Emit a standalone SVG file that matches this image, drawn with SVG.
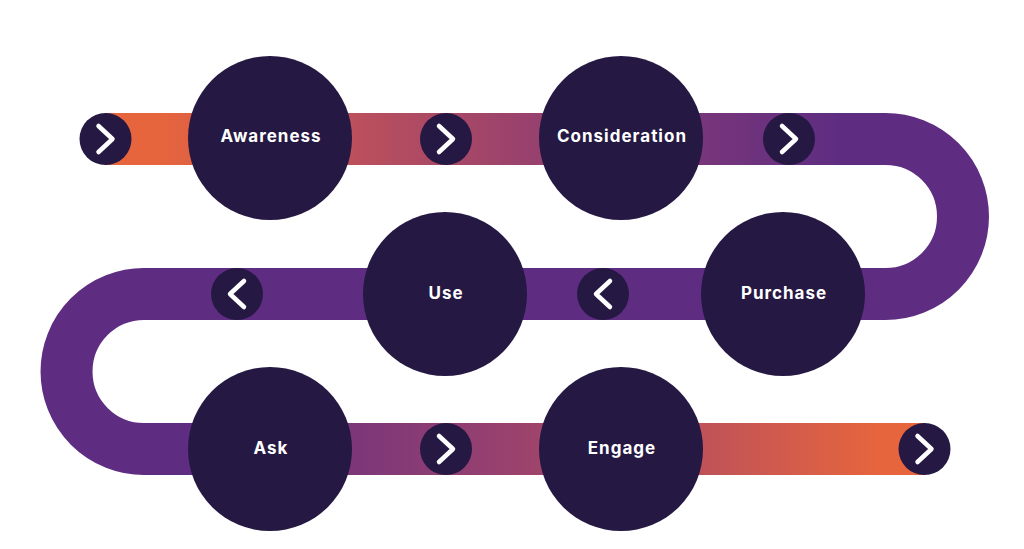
<svg xmlns="http://www.w3.org/2000/svg" width="1024" height="549" viewBox="0 0 1024 549">
<defs>
<linearGradient id="gTop" gradientUnits="userSpaceOnUse" x1="160" y1="0" x2="840" y2="0">
<stop offset="0" stop-color="#E6653D"/>
<stop offset="0.3" stop-color="#B94F5D"/>
<stop offset="0.62" stop-color="#8E3D73"/>
<stop offset="1" stop-color="#5E2D82"/>
</linearGradient>
<linearGradient id="gBot" gradientUnits="userSpaceOnUse" x1="190" y1="0" x2="880" y2="0">
<stop offset="0" stop-color="#5E2D82"/>
<stop offset="0.38" stop-color="#8E3D73"/>
<stop offset="0.7" stop-color="#B94F5D"/>
<stop offset="1" stop-color="#E6653D"/>
</linearGradient>
<g id="chevR"><circle r="26" fill="#251843"/><polyline points="-7,-13 7,0 -7,13" fill="none" stroke="#fff" stroke-width="4.5" stroke-linecap="round" stroke-linejoin="round"/></g>
<g id="chevL"><circle r="26" fill="#251843"/><polyline points="7,-13 -7,0 7,13" fill="none" stroke="#fff" stroke-width="4.5" stroke-linecap="round" stroke-linejoin="round"/></g>
</defs>
<style>
.band{fill:none;stroke-width:52}
.node{fill:#251843}
.lbl{font-family:Inter,"Open Sans","Liberation Sans",sans-serif;font-weight:700;font-size:17px;letter-spacing:1px;fill:#fff;text-anchor:middle;dominant-baseline:central}
</style>
<rect width="1024" height="549" fill="#fff"/>
<g id="connectors">
<path class="band" d="M105,139 H886" stroke="url(#gTop)"/>
<path class="band" d="M885.5,139 A77.5,77.5 0 0 1 885.5,294 H144 A77.5,77.5 0 0 0 144,449" stroke="#5E2D82"/>
<path class="band" d="M143,449 H924" stroke="url(#gBot)"/>
<use href="#chevR" x="105.5" y="139"/>
<use href="#chevR" x="446" y="139"/>
<use href="#chevR" x="789" y="139"/>
<use href="#chevL" x="603" y="294"/>
<use href="#chevL" x="237" y="294"/>
<use href="#chevR" x="446" y="449"/>
<use href="#chevR" x="924.5" y="449"/>
</g>
<g id="awareness"><circle class="node" cx="270" cy="138" r="82"/><text class="lbl" x="271" y="136">Awareness</text></g>
<g id="consideration"><circle class="node" cx="621" cy="138" r="82"/><text class="lbl" x="622" y="136">Consideration</text></g>
<g id="purchase"><circle class="node" cx="783" cy="294" r="82"/><text class="lbl" x="784" y="293">Purchase</text></g>
<g id="use"><circle class="node" cx="445" cy="294" r="82"/><text class="lbl" x="446" y="293">Use</text></g>
<g id="ask"><circle class="node" cx="270" cy="449" r="82"/><text class="lbl" x="271" y="448">Ask</text></g>
<g id="engage"><circle class="node" cx="621" cy="449" r="82"/><text class="lbl" x="622" y="448">Engage</text></g>
</svg>
